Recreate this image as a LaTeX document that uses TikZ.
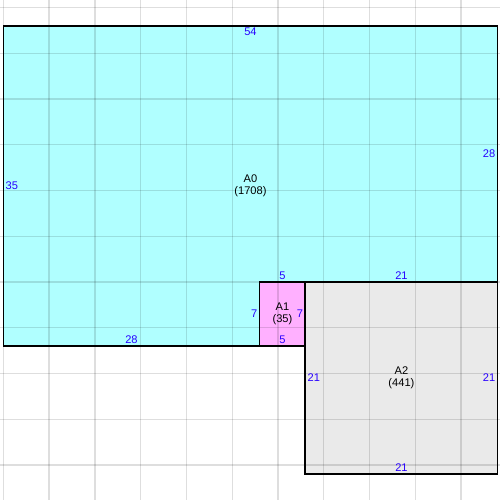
\documentclass[tikz,border=0pt]{standalone}
\usepackage{fontspec}
\setmainfont{Liberation Sans}
\usetikzlibrary{positioning}
\definecolor{areacyan}{RGB}{176,255,255}
\definecolor{areapink}{RGB}{255,176,255}
\definecolor{areagray}{RGB}{234,234,234}
\definecolor{dimblue}{RGB}{40,0,255}
\tikzset{
	% grid style
	gridline/.style={black,opacity=0.13,line width=0.8pt},
	% outline of the areas
	border/.style={black,line width=1.1pt,line join=miter},
	% text styles
	arealabel/.style={font=\fontsize{6.9}{7.6}\selectfont,align=center,inner sep=0pt},
	dimlabel/.style={font=\fontsize{6.9}{7.6}\selectfont,text=dimblue,inner sep=1.2pt},
}

\begin{document}
\begin{tikzpicture}[x=0.2cm,y=0.2cm]
	\useasboundingbox (-0.37,-16.83) rectangle (54.27,37.81);
	
	% fills
	\fill[areacyan] (0,0) -- (0,35) -- (54,35) -- (54,7) -- (28,7) -- (28,0) -- cycle;
	\fill[areapink] (28,0) rectangle (33,7);
	\fill[areagray] (33,-14) rectangle (54,7);
	
	% grid
	\foreach \x in {0,5,...,50}
		\draw[gridline] (\x,-16.83) -- (\x,37.81);
	\foreach \y in {-13,-8,...,37}
		\draw[gridline] (-0.37,\y) -- (54.27,\y);
	
	% outlines
	\draw[border] (0,0) -- (0,35) -- (54,35) -- (54,7) -- (28,7) -- (28,0) -- cycle;
	\draw[border] (28,0) rectangle (33,7);
	\draw[border] (33,-14) rectangle (54,7);
	
	% area names
	\node[arealabel] (a0) at (27,17.5) {A0\\(1708)};
	\node[arealabel] (a1) at (30.5,3.5) {A1\\(35)};
	\node[arealabel] (a2) at (43.5,-3.5) {A2\\(441)};
	
	% side lengths of A0
	\node[dimlabel,below] (a0top) at (27,35) {54};
	\node[dimlabel,left] (a0right) at (54,21) {28};
	\node[dimlabel,above] (a0step) at (43.5,7) {21};
	\node[dimlabel,left] (a0inner) at (28,3.5) {7};
	\node[dimlabel,above] (a0bottom) at (14,0) {28};
	\node[dimlabel,right] (a0left) at (0,17.5) {35};
	
	% side lengths of A1
	\node[dimlabel,above] (a1top) at (30.5,7) {5};
	\node[dimlabel,left] (a1right) at (33,3.5) {7};
	\node[dimlabel,above] (a1bottom) at (30.5,0) {5};
	
	% side lengths of A2
	\node[dimlabel,right] (a2left) at (33,-3.5) {21};
	\node[dimlabel,left] (a2right) at (54,-3.5) {21};
	\node[dimlabel,above] (a2bottom) at (43.5,-14) {21};
	
\end{tikzpicture}
\end{document}
